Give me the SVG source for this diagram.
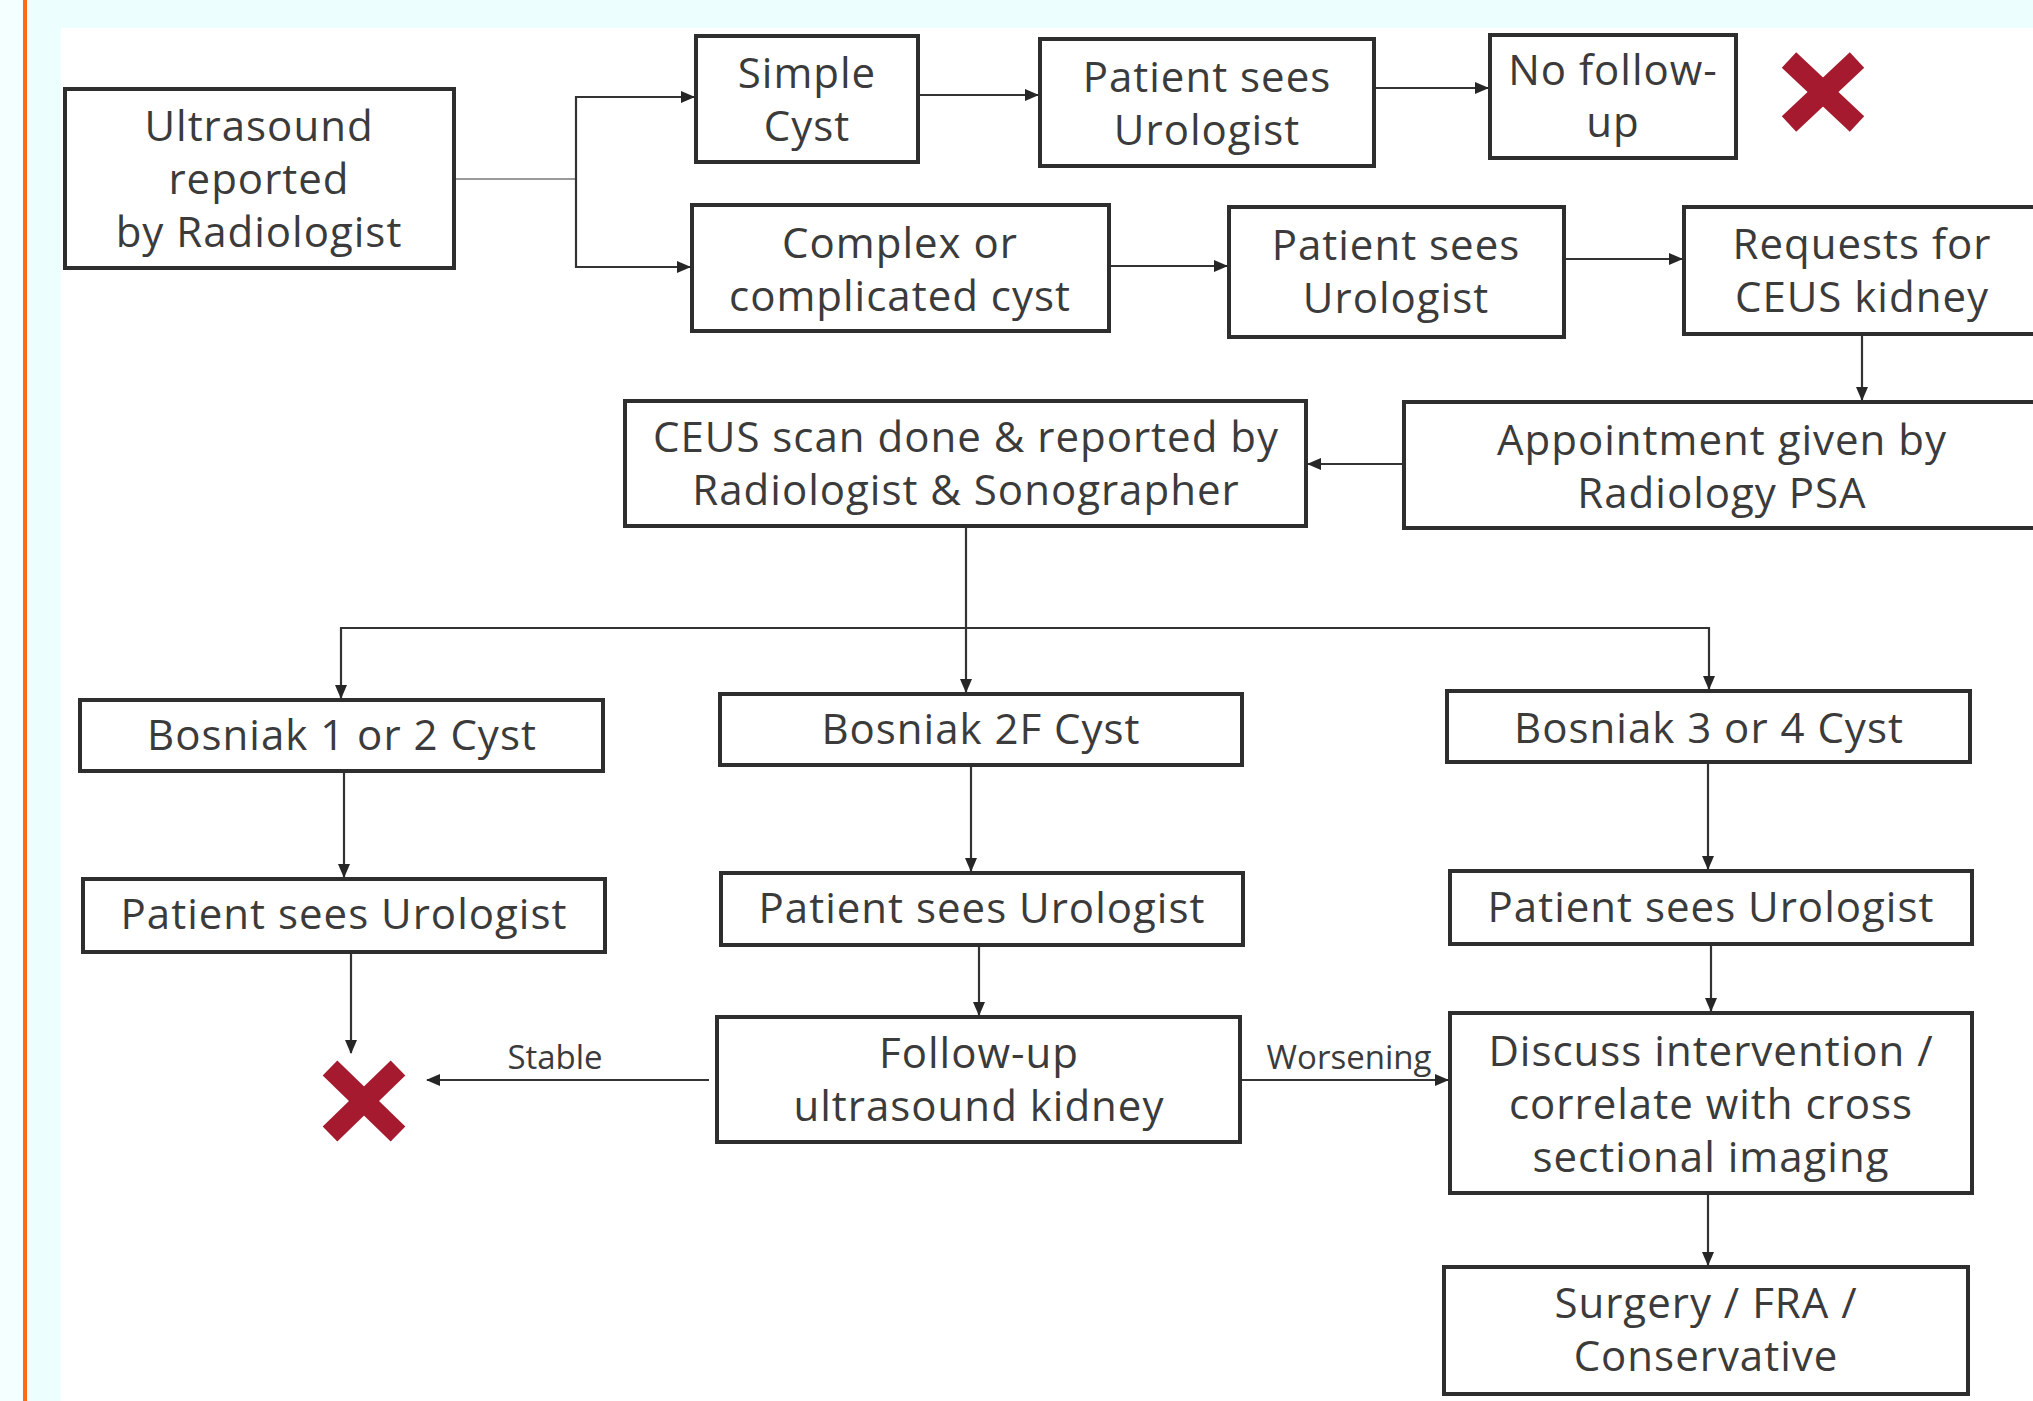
<svg xmlns="http://www.w3.org/2000/svg" width="2033" height="1401" viewBox="0 0 2033 1401">
<style>
.bg{fill:#ecfefe}
.box{fill:#ffffff;stroke:#2e2e2e;stroke-width:4}
.t{font-family:"Open Sans",Lato,"Liberation Sans",sans-serif;font-size:42px;letter-spacing:1px;fill:#3b3b3b;text-anchor:middle}
.lbl{font-family:"Open Sans",Lato,"Liberation Sans",sans-serif;font-size:33px;fill:#3b3b3b;text-anchor:middle}
.c{fill:none;stroke:#333333;stroke-width:2.2}
.cl{fill:none;stroke:#9a9a9a;stroke-width:2.2}
.x{stroke:#a51a2e;stroke-width:21;stroke-linecap:butt}
</style>
<defs>
<marker id="ah" markerUnits="userSpaceOnUse" markerWidth="14" markerHeight="12" refX="13" refY="6" orient="auto">
<path d="M0,0 L14,6 L0,12 Z" fill="#262626"/>
</marker>
</defs>
<rect class="bg" x="0" y="0" width="2033" height="1401"/>
<rect x="0" y="0" width="22" height="1401" fill="#f4ffff"/>
<rect x="23" y="0" width="4" height="1401" fill="#ff6a13"/>
<rect x="61" y="28" width="1972" height="1373" fill="#ffffff"/>

<g id="connectors">
<path class="cl" d="M454,179 H576"/>
<path class="c" d="M576,179 V97 H694" marker-end="url(#ah)"/>
<path class="c" d="M576,179 V267 H690" marker-end="url(#ah)"/>
<path class="c" d="M918,95 H1038" marker-end="url(#ah)"/>
<path class="c" d="M1374,88 H1488" marker-end="url(#ah)"/>
<path class="c" d="M1109,266 H1227" marker-end="url(#ah)"/>
<path class="c" d="M1564,259 H1682" marker-end="url(#ah)"/>
<path class="c" d="M1862,334 V400" marker-end="url(#ah)"/>
<path class="c" d="M1404,464 H1308" marker-end="url(#ah)"/>
<path class="c" d="M966,526 V692" marker-end="url(#ah)"/>
<path class="c" d="M966,628 H341 V698" marker-end="url(#ah)"/>
<path class="c" d="M966,628 H1709 V689" marker-end="url(#ah)"/>
<path class="c" d="M344,771 V877" marker-end="url(#ah)"/>
<path class="c" d="M971,765 V871" marker-end="url(#ah)"/>
<path class="c" d="M1708,762 V869" marker-end="url(#ah)"/>
<path class="c" d="M979,945 V1015" marker-end="url(#ah)"/>
<path class="c" d="M1711,944 V1011" marker-end="url(#ah)"/>
<path class="c" d="M1708,1193 V1265" marker-end="url(#ah)"/>
<path class="c" d="M351,952 V1053" marker-end="url(#ah)"/>
<path class="c" d="M709,1080 H427" marker-end="url(#ah)"/>
<path class="c" d="M1240,1080 H1448" marker-end="url(#ah)"/>
<text class="lbl" x="555" y="1069">Stable</text>
<text class="lbl" x="1349" y="1069">Worsening</text>
</g>

<g id="n-ultrasound">
<rect class="box" x="65" y="89" width="389" height="179"/>
<text class="t" x="259" y="141">Ultrasound</text>
<text class="t" x="259" y="194">reported</text>
<text class="t" x="259" y="247">by Radiologist</text>
</g>
<g id="n-simple">
<rect class="box" x="696" y="36" width="222" height="126"/>
<text class="t" x="807" y="88">Simple</text>
<text class="t" x="807" y="141">Cyst</text>
</g>
<g id="n-urol1">
<rect class="box" x="1040" y="39" width="334" height="127"/>
<text class="t" x="1207" y="92">Patient sees</text>
<text class="t" x="1207" y="145">Urologist</text>
</g>
<g id="n-nofollow">
<rect class="box" x="1490" y="35" width="246" height="123"/>
<text class="t" x="1613" y="85">No follow-</text>
<text class="t" x="1613" y="137">up</text>
</g>
<g id="x-top">
<line class="x" x1="1789" y1="60" x2="1857" y2="124"/>
<line class="x" x1="1857" y1="60" x2="1789" y2="124"/>
</g>
<g id="n-complex">
<rect class="box" x="692" y="205" width="417" height="126"/>
<text class="t" x="900" y="258">Complex or</text>
<text class="t" x="900" y="311">complicated cyst</text>
</g>
<g id="n-urol2">
<rect class="box" x="1229" y="207" width="335" height="130"/>
<text class="t" x="1396" y="260">Patient sees</text>
<text class="t" x="1396" y="313">Urologist</text>
</g>
<g id="n-requests">
<rect class="box" x="1684" y="207" width="360" height="127"/>
<text class="t" x="1862" y="259">Requests for</text>
<text class="t" x="1862" y="312">CEUS kidney</text>
</g>
<g id="n-appointment">
<rect class="box" x="1404" y="402" width="640" height="126"/>
<text class="t" x="1722" y="455">Appointment given by</text>
<text class="t" x="1722" y="508">Radiology PSA</text>
</g>
<g id="n-ceus">
<rect class="box" x="625" y="401" width="681" height="125"/>
<text class="t" x="966" y="452">CEUS scan done &amp; reported by</text>
<text class="t" x="966" y="505">Radiologist &amp; Sonographer</text>
</g>
<g id="n-bosniak12">
<rect class="box" x="80" y="700" width="523" height="71"/>
<text class="t" x="342" y="750">Bosniak 1 or 2 Cyst</text>
</g>
<g id="n-bosniak2f">
<rect class="box" x="720" y="694" width="522" height="71"/>
<text class="t" x="981" y="744">Bosniak 2F Cyst</text>
</g>
<g id="n-bosniak34">
<rect class="box" x="1447" y="691" width="523" height="71"/>
<text class="t" x="1709" y="743">Bosniak 3 or 4 Cyst</text>
</g>
<g id="n-urol-left">
<rect class="box" x="83" y="879" width="522" height="73"/>
<text class="t" x="344" y="929">Patient sees Urologist</text>
</g>
<g id="n-urol-mid">
<rect class="box" x="721" y="873" width="522" height="72"/>
<text class="t" x="982" y="923">Patient sees Urologist</text>
</g>
<g id="n-urol-right">
<rect class="box" x="1450" y="871" width="522" height="73"/>
<text class="t" x="1711" y="922">Patient sees Urologist</text>
</g>
<g id="n-followup">
<rect class="box" x="717" y="1017" width="523" height="125"/>
<text class="t" x="979" y="1068">Follow-up</text>
<text class="t" x="979" y="1121">ultrasound kidney</text>
</g>
<g id="n-discuss">
<rect class="box" x="1450" y="1013" width="522" height="180"/>
<text class="t" x="1711" y="1066">Discuss intervention /</text>
<text class="t" x="1711" y="1119">correlate with cross</text>
<text class="t" x="1711" y="1172">sectional imaging</text>
</g>
<g id="n-surgery">
<rect class="box" x="1444" y="1267" width="524" height="127"/>
<text class="t" x="1706" y="1318">Surgery / FRA /</text>
<text class="t" x="1706" y="1371">Conservative</text>
</g>
<g id="x-left">
<line class="x" x1="330" y1="1068" x2="398" y2="1134"/>
<line class="x" x1="398" y1="1068" x2="330" y2="1134"/>
</g>
</svg>
